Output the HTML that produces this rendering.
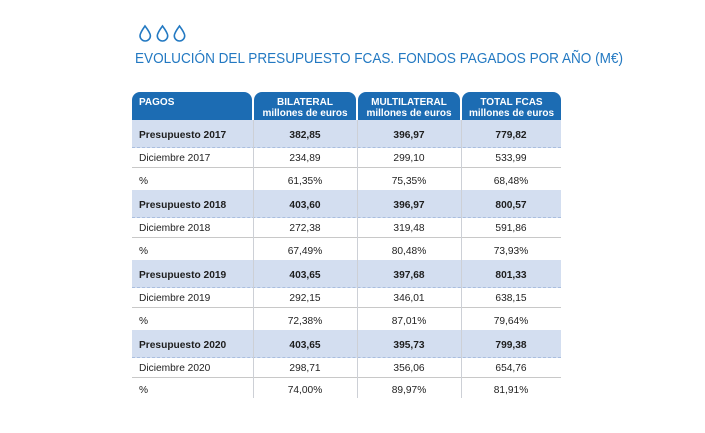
<!DOCTYPE html>
<html>
<head>
<meta charset="utf-8">
<style>
  html,body{margin:0;padding:0;background:#fff;}
  body{width:705px;height:433px;position:relative;overflow:hidden;font-family:"Liberation Sans",Arial,sans-serif;}
  .tab{position:absolute;top:92px;height:28px;background:#1c6cb3;border-radius:8px 8px 0 0;color:#fff;font-weight:bold;font-size:10px;line-height:11px;}
  .tab .c{position:absolute;left:0;right:0;top:5px;text-align:center;}
  .row{position:absolute;left:132px;width:429px;}
  .blue{background:#d3def0;}
  .cell{position:absolute;top:0;bottom:0;display:flex;align-items:center;color:#222;font-size:10.2px;}
  .c1{left:7px;width:114px;}
  .c2{left:121px;width:104px;justify-content:center;}
  .c3{left:225px;width:104px;justify-content:center;}
  .c4{left:329px;width:100px;justify-content:center;}
  .b .cell{font-weight:bold;font-size:10.2px;color:#1e1e1e;padding-top:3px;box-sizing:border-box;}
  .d .cell{padding-top:1px;box-sizing:border-box;}
  .p .cell{padding-top:4px;box-sizing:border-box;}
  .vline{position:absolute;top:120px;height:278px;width:1px;background:#cdd0d6;}
  .hl{position:absolute;left:132px;width:429px;height:1px;background:#c8c8c8;}
  .dl{position:absolute;left:132px;width:429px;height:0;border-top:1px dashed #a9bedf;}
</style>
</head>
<body>
<svg style="position:absolute;left:0;top:0" width="705" height="80">
  <g fill="none" stroke="#2379c2" stroke-width="1.6">
    <path d="M145 26 C145 26 140 33 140 35.8 A5.2 5.2 0 0 0 150.4 35.8 C150.4 33 145 26 145 26 Z"/>
    <path d="M162.5 26 C162.5 26 157.3 33 157.3 35.8 A5.2 5.2 0 0 0 167.7 35.8 C167.7 33 162.5 26 162.5 26 Z"/>
    <path d="M179.5 26 C179.5 26 174.3 33 174.3 35.8 A5.2 5.2 0 0 0 184.7 35.8 C184.7 33 179.5 26 179.5 26 Z"/>
  </g>
  <text x="135" y="63" font-family="Liberation Sans, Arial, sans-serif" font-size="14.5" fill="#2379c2" textLength="488" lengthAdjust="spacingAndGlyphs">EVOLUCIÓN DEL PRESUPUESTO FCAS. FONDOS PAGADOS POR AÑO (M€)</text>
</svg>

<div class="tab" style="left:132px;width:120px;"><div class="c" style="text-align:left;left:7px;">PAGOS</div></div>
<div class="tab" style="left:254px;width:102px;"><div class="c">BILATERAL<br>millones de euros</div></div>
<div class="tab" style="left:358px;width:102px;"><div class="c">MULTILATERAL<br>millones de euros</div></div>
<div class="tab" style="left:462px;width:99px;"><div class="c">TOTAL FCAS<br>millones de euros</div></div>

<!-- 2017 -->
<div class="row blue b" style="top:120px;height:28px;"><div class="cell c1">Presupuesto 2017</div><div class="cell c2">382,85</div><div class="cell c3">396,97</div><div class="cell c4">779,82</div></div>
<div class="row d" style="top:148px;height:20px;"><div class="cell c1">Diciembre 2017</div><div class="cell c2">234,89</div><div class="cell c3">299,10</div><div class="cell c4">533,99</div></div>
<div class="row p" style="top:168px;height:22px;"><div class="cell c1">%</div><div class="cell c2">61,35%</div><div class="cell c3">75,35%</div><div class="cell c4">68,48%</div></div>
<!-- 2018 -->
<div class="row blue b" style="top:190px;height:28px;"><div class="cell c1">Presupuesto 2018</div><div class="cell c2">403,60</div><div class="cell c3">396,97</div><div class="cell c4">800,57</div></div>
<div class="row d" style="top:218px;height:20px;"><div class="cell c1">Diciembre 2018</div><div class="cell c2">272,38</div><div class="cell c3">319,48</div><div class="cell c4">591,86</div></div>
<div class="row p" style="top:238px;height:22px;"><div class="cell c1">%</div><div class="cell c2">67,49%</div><div class="cell c3">80,48%</div><div class="cell c4">73,93%</div></div>
<!-- 2019 -->
<div class="row blue b" style="top:260px;height:28px;"><div class="cell c1">Presupuesto 2019</div><div class="cell c2">403,65</div><div class="cell c3">397,68</div><div class="cell c4">801,33</div></div>
<div class="row d" style="top:288px;height:20px;"><div class="cell c1">Diciembre 2019</div><div class="cell c2">292,15</div><div class="cell c3">346,01</div><div class="cell c4">638,15</div></div>
<div class="row p" style="top:308px;height:22px;"><div class="cell c1">%</div><div class="cell c2">72,38%</div><div class="cell c3">87,01%</div><div class="cell c4">79,64%</div></div>
<!-- 2020 -->
<div class="row blue b" style="top:330px;height:28px;"><div class="cell c1">Presupuesto 2020</div><div class="cell c2">403,65</div><div class="cell c3">395,73</div><div class="cell c4">799,38</div></div>
<div class="row d" style="top:358px;height:20px;"><div class="cell c1">Diciembre 2020</div><div class="cell c2">298,71</div><div class="cell c3">356,06</div><div class="cell c4">654,76</div></div>
<div class="row p" style="top:378px;height:20px;"><div class="cell c1">%</div><div class="cell c2">74,00%</div><div class="cell c3">89,97%</div><div class="cell c4">81,91%</div></div>

<div class="dl" style="top:147px;"></div>
<div class="hl" style="top:167px;"></div>
<div class="dl" style="top:217px;"></div>
<div class="hl" style="top:237px;"></div>
<div class="dl" style="top:287px;"></div>
<div class="hl" style="top:307px;"></div>
<div class="dl" style="top:357px;"></div>
<div class="hl" style="top:377px;"></div>

<div class="vline" style="left:253px;"></div>
<div class="vline" style="left:357px;"></div>
<div class="vline" style="left:461px;"></div>
</body>
</html>
